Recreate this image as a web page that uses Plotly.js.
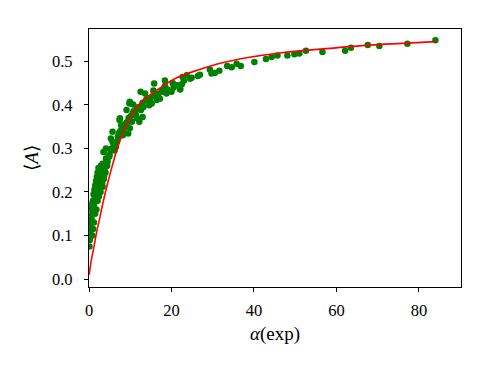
<!DOCTYPE html>
<html>
<head>
<meta charset="utf-8">
<script src="https://cdn.plot.ly/plotly-3.0.1.min.js"></script>
<style>
  html, body { margin: 0; padding: 0; background: #fff; }
  #chart { width: 490px; height: 368px; }
</style>
</head>
<body>
<div id="chart"></div>
<script>
const alphaExp = [
  0.1, 0.2, 0.3, 0.2, 0.4, 0.5, 0.3, 0.6, 0.7, 0.5, 0.9, 0.8, 1.0, 1.2, 1.1, 1.4, 1.3, 1.6, 1.5, 1.8,
  1.7, 2.0, 1.9, 2.2, 2.1, 2.4, 2.3, 2.6, 2.7, 2.9, 3.1, 3.3, 3.7, 3.3, 2.1, 2.5, 2.9, 4.1, 4.1, 4.9,
  3.5, 3.7, 4.1, 5.3, 6.5, 5.7, 5.3, 7.0, 8.2, 5.7, 9.0, 7.8, 7.4, 7.5, 9.8, 9.9, 12.6, 14.6, 11.4, 10.6,
  13.0, 12.2, 4.5, 5.0, 5.5, 6.0, 6.2, 6.8, 7.2, 7.6, 8.0, 8.6, 9.2, 9.6, 10.2, 10.8, 11.5, 12.0, 13.0, 13.8,
  14.5, 15.5, 16.8, 18.0, 19.0, 20.5, 21.5, 23.0, 9.9, 10.7, 12.5, 13.6, 15.8, 14.0, 14.8, 16.0, 17.2, 17.6,
  18.4, 18.8, 20.0, 20.3, 20.8, 22.1, 22.5, 22.7, 23.7, 24.5, 24.9, 26.4, 9.1, 11.2, 12.4, 11.6, 10.4, 9.1,
  8.3, 9.9, 7.9, 9.5, 13.2, 15.2, 16.4, 15.6, 18.4, 22.1, 26.9, 29.3, 30.5, 31.6, 33.5, 34.6, 35.8, 36.8,
  29.7, 40.1, 42.9, 44.3, 45.7, 48.1, 49.8, 51.0, 52.6, 56.6, 62.1, 63.5, 67.6, 70.4, 77.2, 84.0,
  0.8, 1.0, 1.2, 1.5, 1.8, 2.1, 2.4, 2.6, 2.8, 3.2, 3.6, 4.0, 4.4
];
const meanA = [
  0.075, 0.090, 0.105, 0.120, 0.130, 0.115, 0.145, 0.140, 0.160, 0.165, 0.155, 0.175, 0.180, 0.170, 0.195, 0.190, 0.205, 0.200, 0.215, 0.210,
  0.225, 0.220, 0.235, 0.230, 0.245, 0.240, 0.255, 0.250, 0.235, 0.260, 0.245, 0.265, 0.239, 0.212, 0.219, 0.235, 0.250, 0.258, 0.277, 0.281,
  0.292, 0.292, 0.300, 0.296, 0.303, 0.315, 0.323, 0.326, 0.330, 0.338, 0.349, 0.353, 0.365, 0.369, 0.403, 0.407, 0.388, 0.399, 0.376, 0.380,
  0.372, 0.361, 0.270, 0.285, 0.300, 0.310, 0.295, 0.315, 0.335, 0.340, 0.345, 0.355, 0.360, 0.370, 0.375, 0.385, 0.390, 0.395, 0.405, 0.410,
  0.415, 0.420, 0.425, 0.430, 0.435, 0.440, 0.445, 0.455, 0.404, 0.401, 0.430, 0.426, 0.449, 0.414, 0.411, 0.422, 0.414, 0.432,
  0.443, 0.426, 0.430, 0.450, 0.445, 0.435, 0.447, 0.464, 0.468, 0.460, 0.462, 0.466, 0.388, 0.384, 0.395, 0.369, 0.361, 0.357,
  0.342, 0.346, 0.330, 0.334, 0.395, 0.403, 0.411, 0.433, 0.456, 0.437, 0.469, 0.481, 0.473, 0.478, 0.489, 0.486, 0.494, 0.489,
  0.472, 0.498, 0.505, 0.510, 0.513, 0.513, 0.516, 0.518, 0.524, 0.521, 0.524, 0.531, 0.537, 0.535, 0.540, 0.548,
  0.100, 0.115, 0.130, 0.150, 0.160, 0.180, 0.190, 0.210, 0.200, 0.220, 0.230, 0.245, 0.260
];

// fitted curve
const fitAlpha = [0.05, 0.5, 1.05, 2.0, 2.67, 3.5, 4.7, 5.7, 6.7, 8.3, 10.0, 11.6, 14.0, 16.4, 19.0, 21.3, 26.1, 30.1, 34.0, 38.2, 46.3, 57.6, 68.1, 76.0, 84.0];
const fitA = [0.010, 0.040, 0.067, 0.115, 0.143, 0.180, 0.227, 0.262, 0.295, 0.338, 0.370, 0.395, 0.417, 0.433, 0.450, 0.462, 0.479, 0.491, 0.500, 0.508, 0.519, 0.529, 0.537, 0.541, 0.545];

const tickVals = [0, 0.1, 0.2, 0.3, 0.4, 0.5];
const tickText = ['0.0', '0.1', '0.2', '0.3', '0.4', '0.5'];

const font = { family: 'Liberation Serif, serif', size: 16.5, color: '#000' };
const titleFont = { family: 'Liberation Serif, serif', size: 19, color: '#000' };

const traces = [
  {
    x: alphaExp, y: meanA, type: 'scatter', mode: 'markers',
    marker: { color: 'green', size: 6.5 }
  },
  {
    x: fitAlpha, y: fitA, type: 'scatter', mode: 'lines',
    line: { color: 'red', width: 1.6, shape: 'spline' }
  }
];

const axisStyle = {
  showline: true, mirror: true, linecolor: '#000', linewidth: 1.2,
  ticks: 'outside', ticklen: 4, tickwidth: 1, tickcolor: '#000',
  showgrid: false, zeroline: false, tickfont: font
};

const layout = {
  width: 490, height: 368,
  margin: { l: 89, r: 29, t: 29, b: 81 },
  paper_bgcolor: '#fff', plot_bgcolor: '#fff',
  showlegend: false,
  font: font,
  xaxis: Object.assign({}, axisStyle, {
    range: [0, 90.2], tickvals: [0, 20, 40, 60, 80], ticklabelstandoff: 4,
    title: { text: '<i>α</i>(exp)', font: titleFont, standoff: 7 }
  }),
  yaxis: Object.assign({}, axisStyle, {
    range: [-0.018, 0.574], tickvals: tickVals, ticktext: tickText, ticklabelstandoff: 8,
    title: { text: '⟨<i>A</i>⟩', font: titleFont, standoff: 8 }
  })
};

Plotly.newPlot('chart', traces, layout, { staticPlot: true });
</script>
</body>
</html>
